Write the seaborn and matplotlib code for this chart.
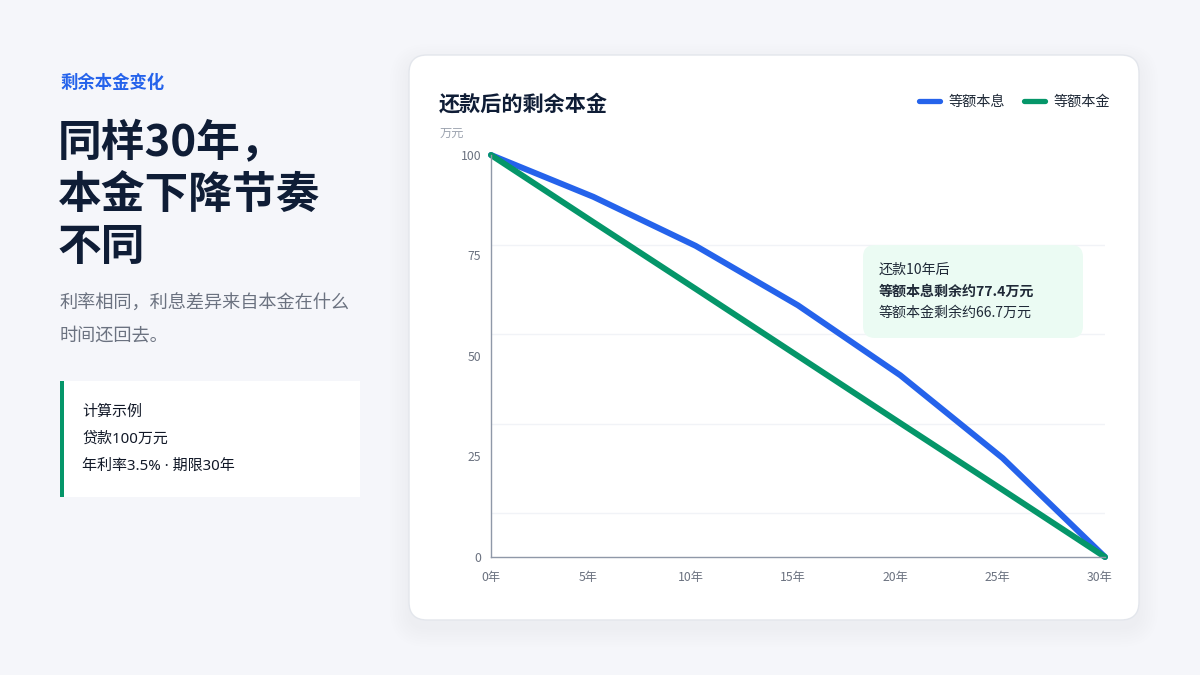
import numpy as np
import pandas as pd
import matplotlib
matplotlib.use("Agg")
import matplotlib.pyplot as plt
from matplotlib.patches import FancyBboxPatch, Rectangle
from matplotlib.ticker import FixedLocator
import matplotlib.transforms as mtransforms
import seaborn as sns

# ---- data ----
years = [0, 5, 10, 15, 20, 25, 30]
annuity_remaining = [100, 89.6, 77.4, 62.6, 45.2, 24.6, 0]      # 等额本息
linear_remaining = [100, 83.3, 66.7, 50.0, 33.3, 16.7, 0]       # 等额本金
series_names = ["等额本息", "等额本金"]
y_ticks = [0, 25, 50, 75, 100]
x_tick_labels = [f"{y}年" for y in years]

df = pd.DataFrame({
    "year": years * 2,
    "value": annuity_remaining + linear_remaining,
    "series": [series_names[0]] * len(years) + [series_names[1]] * len(years),
})

sns.set_theme(style="white")
plt.rcParams["font.family"] = ["Noto Sans CJK SC", "DejaVu Sans"]
plt.rcParams["axes.unicode_minus"] = False

BG = "#f5f6fa"
BLUE = "#2563eb"
GREEN = "#059669"
DARK = "#0f1d36"
GRAY = "#6b7280"

fig = plt.figure(figsize=(12, 6.75), dpi=100, facecolor=BG)

# background / layout axes in pixel coordinates
bg = fig.add_axes([0, 0, 1, 1], zorder=0)
bg.set_xlim(0, 1200)
bg.set_ylim(675, 0)
bg.axis("off")
bg.set_facecolor(BG)

# left text panel
bg.text(60, 83, "剩余本金变化", color=BLUE, fontsize=12.5, fontweight="bold", va="center", ha="left")
for i, line in enumerate(["同样30年，", "本金下降节奏", "不同"]):
    bg.text(58, 143 + 52 * i, line, color=DARK, fontsize=31.5, fontweight="bold", va="center", ha="left")
bg.text(60, 304, "利率相同，利息差异来自本金在什么", color=GRAY, fontsize=13.1, va="center", ha="left")
bg.text(60, 335, "时间还回去。", color=GRAY, fontsize=13.1, va="center", ha="left")

bg.add_patch(Rectangle((60, 381), 300, 116, facecolor="white", edgecolor="none"))
bg.add_patch(Rectangle((60, 381), 4, 116, facecolor=GREEN, edgecolor="none"))
bg.text(82, 412, "计算示例", color="#111827", fontsize=10.8, va="center", ha="left")
bg.text(82, 439, "贷款100万元", color="#111827", fontsize=10.8, va="center", ha="left",
        family=["Noto Sans", "Noto Sans CJK SC"])
bg.text(82, 466, "年利率3.5% · 期限30年", color="#111827", fontsize=10.8, va="center", ha="left",
        family=["Noto Sans", "Noto Sans CJK SC"])

# card shadow + card
for k in range(8):
    s = 3 + 5 * k
    bg.add_patch(FancyBboxPatch((409 - s / 2, 55 + 8 - s / 2), 730 + s, 565 + s,
                                boxstyle="round,pad=0,rounding_size=%d" % (18 + s / 2),
                                facecolor="#1e293b", edgecolor="none", alpha=0.0045))
bg.add_patch(FancyBboxPatch((409, 55), 730, 565, boxstyle="round,pad=0,rounding_size=18",
                            facecolor="white", edgecolor="#e3e6ec", linewidth=1))
bg.text(439, 104, "还款后的剩余本金", color=DARK, fontsize=15.2, fontweight="bold", va="center", ha="left")
bg.text(440, 133, "万元", color="#9ca3af", fontsize=8.8, va="center", ha="left")

# chart axes
ax = fig.add_axes([491 / 1200, 1 - 557 / 675, (1105 - 491) / 1200, (557 - 155) / 675], zorder=2)
ax.set_facecolor("none")
sns.lineplot(data=df, x="year", y="value", hue="series", palette=[BLUE, GREEN],
             linewidth=4.3, ax=ax, legend=True, sort=False)
for ln in ax.lines:
    ln.set_solid_capstyle("round")
    ln.set_solid_joinstyle("round")
    ln.set_clip_on(False)

ax.set_xlim(0, 30)
ax.set_ylim(0, 100)
ax.set_xticks(years)
ax.set_xticklabels(x_tick_labels)
ax.set_yticks(y_ticks)
ax.set_yticklabels([str(v) for v in y_ticks])
ax.set_xlabel("")
ax.set_ylabel("")
ax.tick_params(axis="both", length=0, labelsize=8.8, labelcolor=GRAY)
ax.tick_params(axis="y", pad=7)
ax.tick_params(axis="x", pad=10)
shift = mtransforms.ScaledTranslation(-5 / 100, 0, fig.dpi_scale_trans)
for i, lbl in enumerate(ax.get_xticklabels()):
    if i > 0:
        lbl.set_transform(lbl.get_transform() + shift)
grid_vals = [100 - 22.27 * k for k in range(1, 5)]
ax.yaxis.set_minor_locator(FixedLocator(grid_vals))
ax.tick_params(axis="y", which="minor", length=0)
ax.grid(False)
ax.grid(True, which="minor", axis="y", color="#f1f3f7", linewidth=1)
for side in ["top", "right"]:
    ax.spines[side].set_visible(False)
for side in ["left", "bottom"]:
    ax.spines[side].set_color("#8f98a8")
    ax.spines[side].set_linewidth(1)

handles, labels = ax.get_legend_handles_labels()
leg = ax.legend(handles, labels, loc="upper right", bbox_to_anchor=(1110 / 1200, 1 - 95 / 675),
                bbox_transform=fig.transFigure, ncol=2, frameon=False, fontsize=10.2,
                handlelength=1.45, handletextpad=0.6, columnspacing=1.4, borderpad=0, borderaxespad=0)
for h in leg.get_lines():
    h.set_linewidth(3.8)
    h.set_solid_capstyle("round")
for t in leg.get_texts():
    t.set_color("#1f2937")

# overlay tooltip
ov = fig.add_axes([0, 0, 1, 1], zorder=3)
ov.set_xlim(0, 1200)
ov.set_ylim(675, 0)
ov.axis("off")
ov.set_facecolor("none")
ov.add_patch(FancyBboxPatch((863, 245), 220, 93, boxstyle="round,pad=0,rounding_size=12",
                            facecolor="#ebfbf3", edgecolor="none"))
ov.text(879, 270, "还款10年后", color="#1f2937", fontsize=10.1, va="center", ha="left")
ov.text(879, 292, "等额本息剩余约77.4万元", color="#1f2937", fontsize=10.1, fontweight="bold",
        va="center", ha="left")
ov.text(879, 313, "等额本金剩余约66.7万元", color="#1f2937", fontsize=10.1, va="center", ha="left")

fig.savefig("out.png", dpi=100, facecolor=BG)
